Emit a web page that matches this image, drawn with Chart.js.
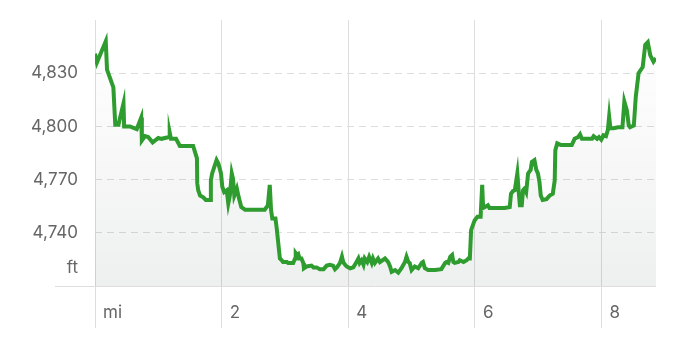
<!DOCTYPE html>
<html>
<head>
<meta charset="utf-8">
<script src="https://cdn.jsdelivr.net/npm/chart.js@4.4.1/dist/chart.umd.min.js"></script>
<style>
    html, body { margin: 0; padding: 0; background: #ffffff; }
    #contenedor { width: 686px; height: 356px; position: relative; }
</style>
</head>
<body>
<div id="contenedor"><canvas id="perfilChart"></canvas></div>
<script>
// Distancia recorrida (millas)
const distancia = [
    0.00, 0.03, 0.17, 0.19, 0.29, 0.32, 0.37, 0.45, 0.46, 0.55, 0.66, 0.73, 0.74, 0.79, 0.84, 0.91,
    1.00, 1.05, 1.17, 1.18, 1.20, 1.28, 1.34, 1.55, 1.61, 1.615, 1.63, 1.66, 1.71, 1.75, 1.82, 1.83,
    1.85, 1.92, 1.95, 1.99, 2.01, 2.04, 2.08, 2.105, 2.13, 2.16, 2.18, 2.20, 2.24, 2.27, 2.31, 2.37,
    2.68, 2.73, 2.76, 2.78, 2.80, 2.85, 2.87, 2.92, 2.95, 2.97, 3.03, 3.05, 3.11, 3.13, 3.16, 3.17,
    3.19, 3.21, 3.23, 3.26, 3.29, 3.30, 3.34, 3.42, 3.45, 3.50, 3.55, 3.61, 3.66, 3.71, 3.76, 3.79,
    3.82, 3.87, 3.90, 3.92, 3.95, 3.975, 4.03, 4.08, 4.13, 4.16, 4.18, 4.21, 4.24, 4.26, 4.30, 4.33,
    4.37, 4.39, 4.42, 4.47, 4.50, 4.58, 4.63, 4.66, 4.685, 4.74, 4.79, 4.84, 4.895, 4.92, 4.95, 4.97,
    5.00, 5.05, 5.105, 5.16, 5.18, 5.21, 5.26, 5.37, 5.47, 5.53, 5.55, 5.58, 5.61, 5.64, 5.66, 5.68,
    5.74, 5.76, 5.82, 5.87, 5.895, 5.92, 5.94, 5.995, 6.04, 6.09, 6.115, 6.13, 6.18, 6.205, 6.23, 6.47,
    6.55, 6.57, 6.60, 6.63, 6.67, 6.69, 6.71, 6.74, 6.76, 6.785, 6.81, 6.84, 6.88, 6.90, 6.94, 6.97,
    6.995, 7.02, 7.04, 7.07, 7.13, 7.18, 7.23, 7.26, 7.27, 7.30, 7.36, 7.53, 7.575, 7.63, 7.66, 7.69,
    7.85, 7.875, 7.93, 7.96, 7.995, 8.03, 8.07, 8.10, 8.12, 8.14, 8.19, 8.26, 8.33, 8.36, 8.40, 8.43,
    8.45, 8.51, 8.54, 8.585, 8.65, 8.69, 8.73, 8.77, 8.82, 8.86
];

// Elevación (pies)
const elevacion = [
    4841, 4836, 4848, 4832, 4822, 4801, 4801, 4813, 4800, 4800, 4798.5, 4805, 4792, 4794.5, 4794, 4791,
    4793.5, 4793, 4794, 4796.5, 4793, 4793, 4789, 4789, 4782, 4768, 4764, 4761, 4760, 4758.5, 4758.5, 4769.5,
    4773.5, 4781, 4779, 4773.5, 4766, 4763, 4764, 4756.5, 4761, 4773.5, 4770.5, 4761, 4765, 4760, 4754.5, 4753,
    4753, 4755.5, 4767, 4753, 4748, 4748, 4742.5, 4725.5, 4724.5, 4723.5, 4723.5, 4723, 4723, 4723, 4725.5, 4728.5,
    4727.5, 4728, 4725.5, 4725.5, 4723, 4720, 4721, 4721.5, 4720.5, 4720.5, 4719.5, 4719.5, 4721.5, 4722, 4721.5, 4719.5,
    4720.5, 4723, 4726.5, 4723.5, 4722, 4721, 4720, 4720.5, 4723.5, 4725.5, 4723, 4724.5, 4722, 4725.5, 4723.5, 4726.5,
    4723, 4725.5, 4723, 4725.5, 4723.5, 4725.5, 4723.5, 4721, 4718, 4719, 4717.5, 4720, 4723.5, 4726.5, 4723.5, 4723,
    4719, 4721, 4720, 4723, 4723.5, 4720, 4719, 4719, 4719.5, 4723, 4723.5, 4723, 4726.5, 4727.5, 4723.5, 4723,
    4723.5, 4724.5, 4723.5, 4724.5, 4725.5, 4725.5, 4741.5, 4747, 4749, 4749, 4767, 4754, 4755, 4755.5, 4754, 4754,
    4754.5, 4762, 4763.5, 4764, 4773.5, 4764, 4755.5, 4755.5, 4764, 4765, 4763, 4773.5, 4775.5, 4780, 4781, 4775.5,
    4773.5, 4768.5, 4761, 4758.5, 4759, 4761, 4762, 4769.5, 4786.5, 4790.5, 4789.5, 4789.5, 4793, 4794, 4795.5, 4793,
    4793, 4794.5, 4793, 4794, 4792.5, 4795, 4794.5, 4798, 4805.5, 4799, 4799, 4799.5, 4799.5, 4814, 4809, 4800.5,
    4799.5, 4800.5, 4816.5, 4830, 4833.5, 4846, 4847.5, 4840, 4836.5, 4838.5
];

// Marcas de los ejes
const marcasX = [0, 2, 4, 6, 8];
const marcasY = [4710, 4720, 4740, 4770, 4800, 4830];
const rangoX = [0, 8.86];
const rangoY = [4710, 4860];

document.addEventListener('DOMContentLoaded', function() {
    const puntos = distancia.map((d, i) => ({ x: d, y: elevacion[i] }));
    const fuente = { family: 'Inter', size: 17, lineHeight: 1.2 };

    // Degradado gris bajo la línea
    function rellenoDegradado(context) {
        const chart = context.chart;
        const area = chart.chartArea;
        if (!area) return 'rgba(0,0,0,0)';
        const g = chart.ctx.createLinearGradient(0, area.top, 0, area.bottom);
        g.addColorStop(0, 'rgba(0, 20, 20, 0)');
        g.addColorStop(0.3, 'rgba(0, 20, 20, 0.014)');
        g.addColorStop(1, 'rgba(0, 20, 20, 0.065)');
        return g;
    }

    const ctx = document.getElementById('perfilChart').getContext('2d');
    new Chart(ctx, {
        type: 'line',
        data: {
            datasets: [{
                label: 'Elevación',
                data: puntos,
                borderColor: '#2e9c2e',
                borderWidth: 4,
                backgroundColor: rellenoDegradado,
                fill: 'start',
                pointRadius: 0,
                tension: 0
            }]
        },
        options: {
            responsive: true,
            maintainAspectRatio: false,
            animation: false,
            layout: { padding: { top: 20, right: 30, left: 0, bottom: 0 } },
            plugins: { legend: { display: false }, tooltip: { enabled: false } },
            scales: {
                x: {
                    type: 'linear',
                    min: rangoX[0],
                    max: rangoX[1],
                    afterBuildTicks: scale => { scale.ticks = marcasX.map(v => ({ value: v })); },
                    afterFit: scale => { scale.height = 70; },
                    grid: { color: '#dddddd', tickColor: '#dddddd', tickLength: 42, lineWidth: 1 },
                    border: { display: false },
                    ticks: {
                        align: 'start',
                        labelOffset: 8,
                        padding: -25,
                        maxRotation: 0,
                        autoSkip: false,
                        color: '#666666',
                        font: fuente,
                        callback: value => value === 0 ? 'mi' : String(value)
                    }
                },
                y: {
                    min: rangoY[0],
                    max: rangoY[1],
                    afterBuildTicks: scale => { scale.ticks = marcasY.map(v => ({ value: v })); },
                    afterFit: scale => { scale.width = 95; },
                    grid: {
                        color: c => c.tick && c.tick.value === 4720 ? 'rgba(0,0,0,0)' : '#dddddd',
                        tickColor: c => c.tick && c.tick.value === 4710 ? '#dddddd' : 'rgba(0,0,0,0)',
                        tickLength: 40,
                        lineWidth: 1
                    },
                    border: {
                        display: false,
                        dash: c => c.tick && c.tick.value === 4710 ? [] : [7, 5]
                    },
                    ticks: {
                        padding: -23,
                        color: '#666666',
                        font: fuente,
                        callback: value => {
                            if (value === 4710) return '';
                            if (value === 4720) return 'ft';
                            return value.toLocaleString('en-US');
                        }
                    }
                }
            }
        }
    });
});
</script>
</body>
</html>
